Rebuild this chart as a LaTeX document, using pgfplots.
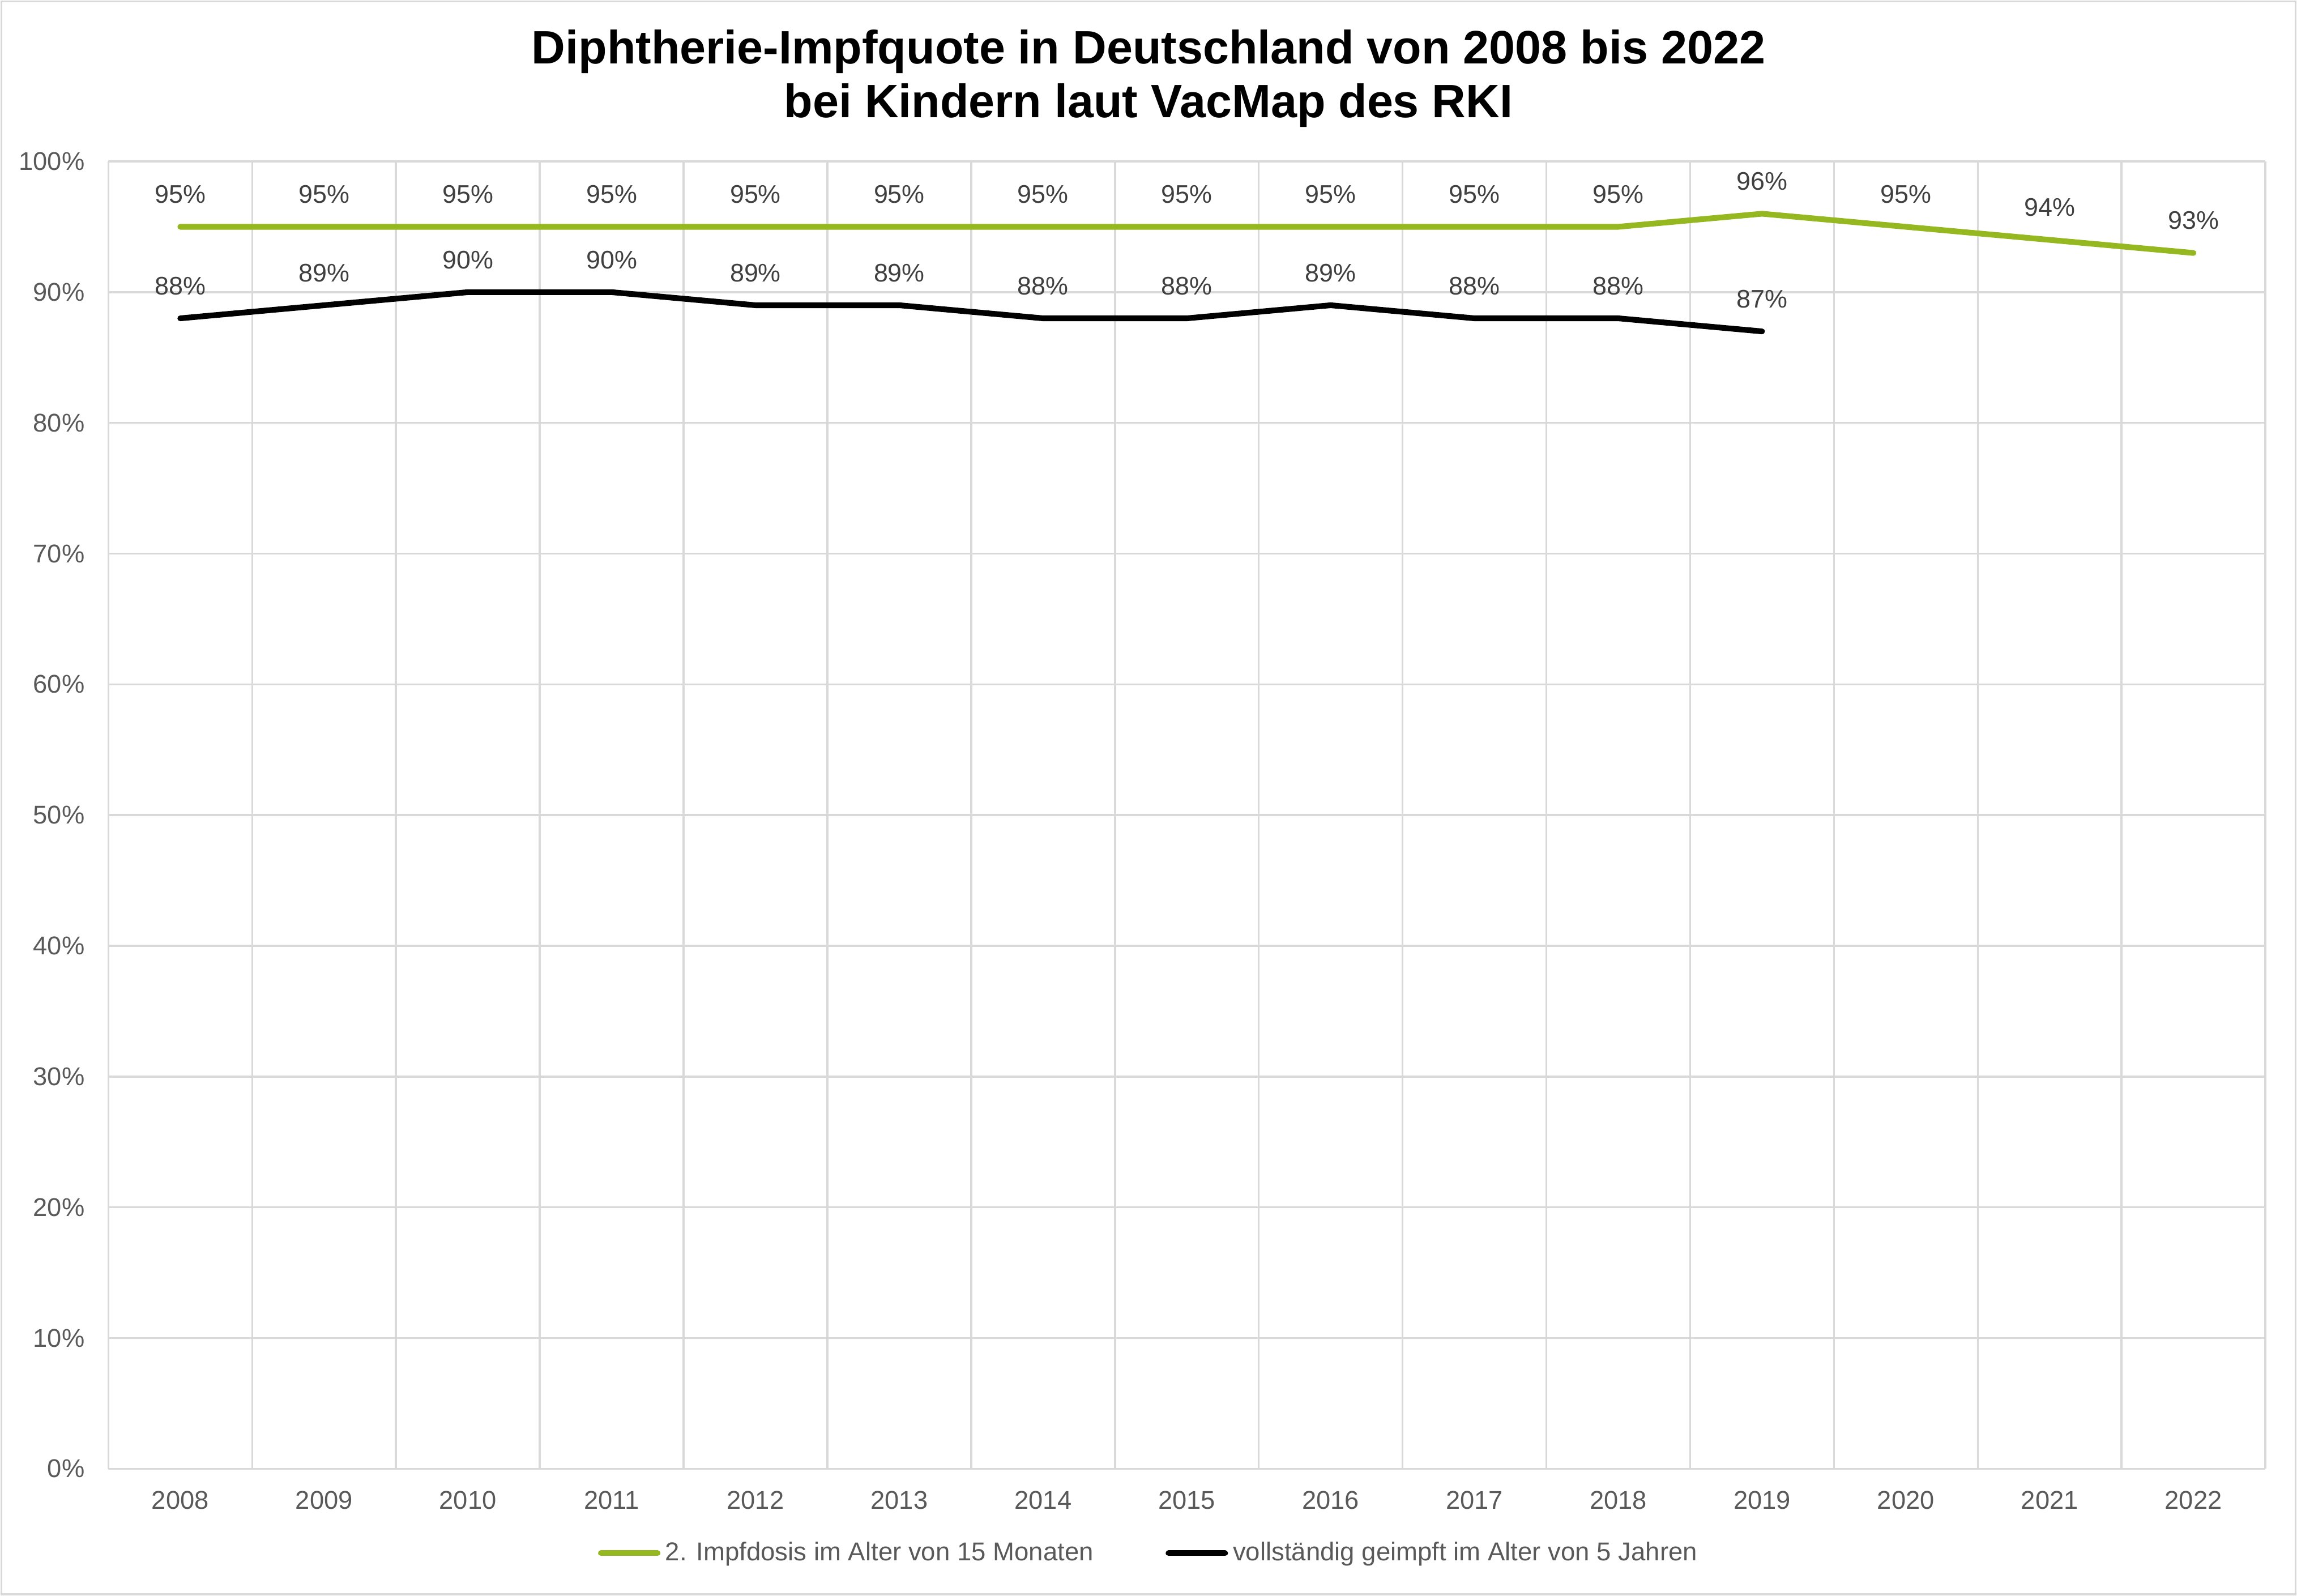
\documentclass[border=0pt]{standalone}
\usepackage{fontspec}
\setmainfont{Liberation Sans}
\usepackage{pgfplots}
\pgfplotsset{compat=1.18}
\definecolor{vgreen}{RGB}{149,183,31}
\definecolor{gridc}{RGB}{217,217,217}
\definecolor{axisc}{RGB}{200,200,200}
\definecolor{ticktext}{RGB}{89,89,89}
\definecolor{labtext}{RGB}{64,64,64}
\begin{document}
\begin{tikzpicture}
\useasboundingbox (0,0) rectangle (922pt,640.5pt);
\draw[gridc, line width=0.8pt] (0.6pt,0.6pt) rectangle (921.4pt,639.9pt);
\node[align=center, font=\fontsize{18.8}{21.4}\selectfont\bfseries] at (461pt,609pt) {Diphtherie-Impfquote in Deutschland von 2008 bis 2022\\bei Kindern laut VacMap des RKI};
\begin{axis}[
  at={(43.5pt,51pt)}, anchor=south west,
  scale only axis, width=865.8pt, height=524.7pt,
  xmin=-0.5, xmax=14.5, ymin=0, ymax=100,
  clip=false,
  xtick={0,...,14},
  xticklabels={2008,2009,2010,2011,2012,2013,2014,2015,2016,2017,2018,2019,2020,2021,2022},
  minor xtick={-0.5,0.5,...,14.5},
  xminorgrids,
  minor grid style={gridc, line width=0.8pt},
  ytick={0,10,...,100},
  ymajorgrids,
  major grid style={gridc, line width=0.8pt},
  major tick length=0pt, minor tick length=0pt,
  axis line style={draw=none},
  extra y ticks={0}, extra y tick labels={},
  extra y tick style={grid style={axisc, line width=1.5pt}},
  /pgf/number format/assume math mode=true,
  tick label style={font=\fontsize{10.3}{12}\selectfont, text=ticktext},
  yticklabel={\pgfmathprintnumber{\tick}\%},
  yticklabel shift=6pt,
  xticklabel shift=5.5pt,
  point meta=y,
  nodes near coords={\pgfmathprintnumber{\pgfplotspointmeta}\%},
  nodes near coords style={anchor=center, yshift=13pt, font=\fontsize{10.2}{12}\selectfont, text=labtext},
  legend image code/.code={\draw[#1] (0pt,0pt) -- (22.7pt,0pt);},
  legend cell align=left,
  legend columns=2,
  legend style={at={(0.483,-0.0646)}, anchor=center, draw=none, fill=none,
    font=\fontsize{10.35}{12}\selectfont, text=ticktext,
    /tikz/every even column/.append style={column sep=27pt}},
]
\addplot[vgreen, line width=2.3pt, line join=round, line cap=round] coordinates {
(0,95) (1,95) (2,95) (3,95) (4,95) (5,95) (6,95) (7,95) (8,95) (9,95) (10,95) (11,96) (12,95) (13,94) (14,93)};
\addlegendentry{2. Impfdosis im Alter von 15 Monaten}
\addplot[black, line width=2.3pt, line join=round, line cap=round] coordinates {
(0,88) (1,89) (2,90) (3,90) (4,89) (5,89) (6,88) (7,88) (8,89) (9,88) (10,88) (11,87)};
\addlegendentry{vollständig geimpft im Alter von 5 Jahren}
\end{axis}
\end{tikzpicture}
\end{document}
